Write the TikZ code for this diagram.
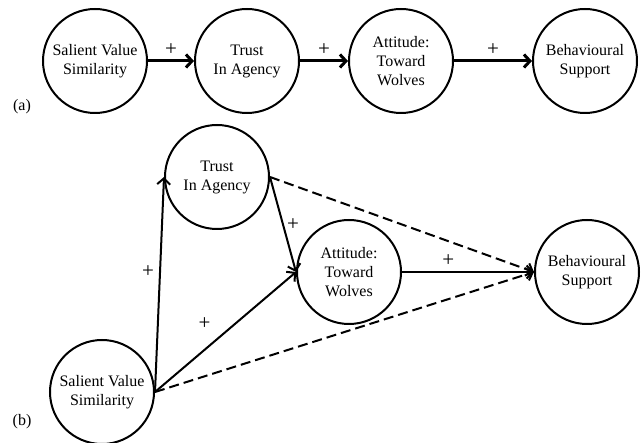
\documentclass[tikz,border=0pt]{standalone}
\usepackage{fontspec}
\setmainfont{Liberation Serif}
\usetikzlibrary{arrows.meta}

\begin{document}
\begin{tikzpicture}[x=1pt,y=-1pt,
  factor/.style={draw,circle,line width=2pt,minimum size=104pt,inner sep=0pt,
    align=center,font=\fontsize{16}{19}\selectfont},
  link/.style={line width=2pt,-{Straight Barb[length=6pt,width=13pt]}},
  strong/.style={link,line width=3pt},
  weak/.style={link,dash pattern=on 10pt off 5pt},
  sign/.style={font=\fontsize{21}{21}\selectfont,inner sep=1pt},
  panel/.style={font=\fontsize{16}{19}\selectfont}]
  \useasboundingbox (0,0) rectangle (643,443);
  % (a) chain
  \node[factor] (sa) at (95,61) {Salient Value\\Similarity};
  \node[factor] (ta) at (247,61) {Trust\\In Agency};
  \node[factor] (aa) at (401,61) {Attitude:\\Toward\\Wolves};
  \node[factor] (ba) at (585,61) {Behavioural\\Support};
  \node[panel] (la) at (22,107) {(a)};
  \draw[strong] (sa) -- node[sign,above=3pt] {+} (ta);
  \draw[strong] (ta) -- node[sign,above=3pt] {+} (aa);
  \draw[strong] (aa) -- node[sign,above=3pt] {+} (ba);
  % (b) mediation
  \node[factor] (sb) at (102,392) {Salient Value\\Similarity};
  \node[factor] (tb) at (217,177) {Trust\\In Agency};
  \node[factor] (ab) at (349,272) {Attitude:\\Toward\\Wolves};
  \node[factor] (bb) at (587,272) {Behavioural\\Support};
  \node[panel] (lb) at (22,422) {(b)};
  \draw[link] (sb.east) -- node[sign,pos=0.56,left=4pt] {+} (tb.west);
  \draw[link] (sb.east) -- node[sign,pos=0.45,above left=6pt] {+} (ab.west);
  \draw[link] (tb.east) -- node[sign,pos=0.5,right=2pt] {+} (ab.west);
  \draw[link] (ab.east) -- node[sign,pos=0.35,above=3pt] {+} (bb.west);
  \draw[weak] (tb.east) -- (bb.west);
  \draw[weak] (sb.east) -- (bb.west);
\end{tikzpicture}
\end{document}
